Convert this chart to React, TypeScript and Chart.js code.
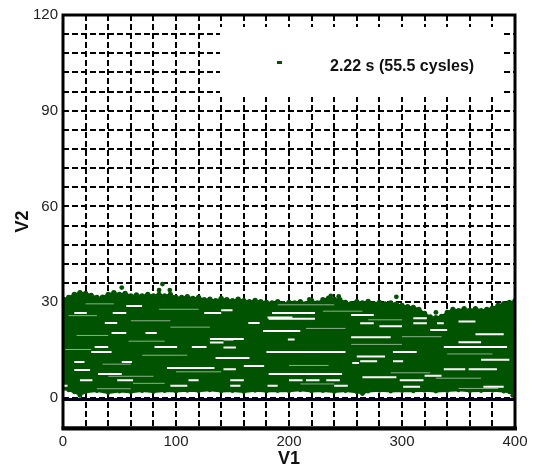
import { useEffect, useRef } from 'react';
import { Chart, registerables } from 'chart.js';

Chart.register(...registerables);

const SERIES_LABEL = '2.22 s (55.5 cysles)';
const GREEN = '#005300';
const FONT = '"Liberation Sans", Arial, Helvetica, sans-serif';

// Upper edge of the V2 cloud
const topX = [
  0, 5, 10, 15, 20, 25, 30, 35, 40, 45, 50, 55, 60, 65, 70, 75, 80, 85, 90, 95,
  100, 105, 110, 115, 120, 125, 130, 135, 140, 145, 150, 155, 160, 165, 170, 175,
  180, 185, 190, 195, 200, 205, 210, 215, 220, 225, 230, 235, 240, 245, 250, 255,
  260, 265, 270, 275, 280, 285, 290, 295, 300, 305, 310, 315, 320, 325, 330, 335,
  340, 345, 350, 355, 360, 365, 370, 375, 380, 385, 390, 395, 400,
];
const topY = [
  31, 31.5, 32.5, 33, 32.8, 32.2, 31.5, 31.6, 32.5, 33, 32.5, 32.8, 32, 32.3, 32, 32.5, 32, 32.5, 32, 32.5,
  31.5, 31.5, 31.8, 31.2, 31.5, 30.8, 31, 30.5, 31.2, 30.8, 30.5, 31, 30.5, 30.2, 30.6, 30.2,
  30, 29.8, 30.2, 29.6, 30, 29.8, 30.2, 29.6, 30.5, 29.8, 30.8, 31.3, 31, 30.8, 30, 29.6,
  30.2, 29.8, 30.3, 29.6, 30, 29.5, 29.8, 29.4, 29, 28.6, 28.4, 27.8, 26.5, 25.4, 25.2, 25.6,
  26.8, 27.8, 27.4, 28, 27.5, 28, 27.4, 27.8, 28.2, 29, 29.6, 30, 30.4,
];

// Lower edge of the V2 cloud
const bottomX = [
  0, 5, 10, 15, 20, 30, 40, 50, 60, 70, 80, 90, 100, 110, 120, 130, 140, 150, 160, 170,
  180, 190, 200, 210, 220, 230, 240, 250, 260, 265, 270, 280, 290, 300, 310, 320, 330,
  340, 350, 360, 370, 380, 390, 395, 400,
];
const bottomY = [
  2.8, 2.4, 1.8, 1.0, 1.8, 2.2, 1.6, 2.0, 1.8, 2.2, 1.9, 2.2, 2.0, 2.3, 2.1, 2.4, 2.0, 2.2, 1.9, 2.3,
  2.0, 2.2, 2.1, 2.4, 2.0, 2.2, 1.9, 2.2, 1.8, 1.4, 2.0, 2.3, 2.0, 2.2, 2.1, 2.3, 2.0,
  2.2, 2.4, 2.1, 2.2, 2.3, 2.0, 1.8, 0.9,
];

// Isolated samples above the main cloud
const peakX = [52, 85, 88, 94.5, 218, 237, 244, 295, 330, 15, 265, 398];
const peakY = [34.6, 33.8, 35.7, 33.8, 30.9, 32, 31.8, 31.7, 26.8, 0.8, 1.4, 0.8];

// Empty runs inside the cloud: level, start, end
const gapY = [
  28.8, 26.6, 26.6, 23.5, 20.4, 20.4, 16, 16, 16, 14.4, 11.3, 11.3, 9.4, 8.8, 7.5,
  5.6, 5.6, 5.6, 3.8, 3.8,
  26.6, 24.8, 23.5, 21, 14.4, 7.5, 5.6, 5.6, 5.6, 5.6, 3.8, 3.8, 3.8,
  25, 21.3, 16, 14.4, 9, 9, 5.6, 3.5, 3.5, 11.5, 11.5,
  18.5, 12.5, 27.5, 10, 26, 19, 13, 6.5, 22.5, 17.5, 24, 7, 12, 20,
  26.6, 25.2, 18.3, 18.3, 17.4, 15.8, 9, 11, 23.4, 23.4, 23.4,
];
const gapFrom = [
  56, 10, 44, 37, 43, 73, 28, 81, 114, 25, 10, 52, 92, 10, 31,
  15, 48, 111, 0, 95,
  185, 182, 164, 177, 180, 182, 148, 200, 215, 233, 148, 181, 240,
  310, 325, 337, 292, 337, 359, 298, 301, 372, 263, 292,
  130, 135, 140, 160, 255, 255, 260, 265, 280, 350, 350, 320, 370, 365,
  125, 181, 142, 199, 130, 142, 142, 256, 263, 310, 331,
];
const gapTo = [
  70, 21, 56, 48, 56, 83, 40, 101, 127, 43, 19, 61, 134, 24, 52,
  26, 62, 120, 4, 110,
  223, 223, 174, 210, 250, 247, 160, 212, 227, 245, 157, 190, 252,
  322, 340, 393, 313, 356, 384, 319, 316, 390, 278, 301,
  160, 165, 150, 178, 275, 290, 285, 295, 300, 370, 365, 335, 395, 390,
  140, 203, 151, 205, 142, 153, 153, 262, 275, 322, 337,
];

// Faint, one-pixel runs inside the cloud: level, start, end
const faintY = [
  29.5, 27.8, 25.8, 24.2, 22.2, 19.6, 17.8, 15.2, 13.4, 10.6, 8.2, 6.8, 4.6, 2.9,
  29.2, 27.2, 24.5, 21.8, 19.2, 16.8, 13.8, 10.2, 7.9, 6.2, 4.4, 3.0,
];
const faintFrom = [
  20, 85, 5, 60, 95, 12, 58, 2, 70, 35, 100, 40, 62, 30,
  190, 230, 270, 215, 300, 255, 340, 200, 290, 330, 210, 350,
];
const faintTo = [
  45, 120, 30, 95, 130, 40, 90, 25, 110, 60, 140, 80, 90, 60,
  240, 265, 300, 250, 335, 300, 380, 235, 325, 370, 240, 385,
];

// Reference line just under zero
const baseX = [0, 400];
const baseY = [-0.5, -0.5];

const runs = (ys: number[], from: number[], to: number[]) => {
  const out: any[] = [];
  ys.forEach((y, i) => {
    out.push({ x: from[i], y }, { x: to[i], y }, { x: to[i], y: null });
  });
  return out;
};

const framePlugin = {
  id: 'frameAndKey',
  beforeDatasetsDraw(chart: any) {
    const { ctx, chartArea: a } = chart;
    ctx.save();
    ctx.fillStyle = '#ffffff';
    ctx.fillRect(a.left + 157, a.top + 12, 282, 70);
    ctx.restore();
  },
  afterDraw(chart: any) {
    const { ctx, chartArea: a } = chart;
    ctx.save();
    ctx.strokeStyle = '#000';
    ctx.lineWidth = 3;
    ctx.strokeRect(a.left, a.top, a.right - a.left, a.bottom - a.top);
    ctx.lineWidth = 4;
    ctx.beginPath();
    ctx.moveTo(a.left - 1.5, a.bottom + 0.5);
    ctx.lineTo(a.right + 2, a.bottom + 0.5);
    ctx.stroke();
    ctx.fillStyle = GREEN;
    ctx.fillRect(a.left + 214, a.top + 46, 5, 3);
    ctx.fillStyle = '#111';
    ctx.font = `bold 16px ${FONT}`;
    ctx.textBaseline = 'middle';
    ctx.textAlign = 'left';
    ctx.fillText(chart.data.datasets[1].label, a.left + 267, a.top + 52);
    ctx.restore();
  },
};

export default function App() {
  const ref = useRef<HTMLCanvasElement | null>(null);

  useEffect(() => {
    if (!ref.current) return;

    const chart = new Chart(ref.current, {
      type: 'line',
      data: {
        datasets: [
          {
            label: 'lower',
            data: bottomX.map((x, i) => ({ x, y: bottomY[i] })),
            borderColor: GREEN,
            borderWidth: 2,
            pointRadius: 2,
            pointBackgroundColor: GREEN,
            pointBorderWidth: 0,
            fill: false,
            order: 6,
          },
          {
            label: SERIES_LABEL,
            data: topX.map((x, i) => ({ x, y: topY[i] })),
            borderColor: GREEN,
            backgroundColor: GREEN,
            borderWidth: 2,
            pointRadius: 2.6,
            pointBackgroundColor: GREEN,
            pointBorderWidth: 0,
            fill: { target: 0 },
            order: 5,
          },
          {
            type: 'scatter',
            label: 'peaks',
            data: peakX.map((x, i) => ({ x, y: peakY[i] })),
            pointRadius: 2.4,
            pointBackgroundColor: GREEN,
            pointBorderWidth: 0,
            order: 4,
          },
          {
            label: 'faint',
            data: runs(faintY, faintFrom, faintTo),
            borderColor: 'rgba(255,255,255,0.55)',
            borderWidth: 1,
            pointRadius: 0,
            spanGaps: false,
            fill: false,
            order: 3,
          },
          {
            label: 'gaps',
            data: runs(gapY, gapFrom, gapTo),
            borderColor: '#ffffff',
            borderWidth: 2,
            pointRadius: 0,
            spanGaps: false,
            fill: false,
            order: 2,
          },
          {
            label: 'base',
            data: baseX.map((x, i) => ({ x, y: baseY[i] })),
            borderColor: '#00001a',
            borderWidth: 3,
            borderDash: [],
            pointRadius: 0,
            fill: false,
            clip: false,
            order: 1,
          },
        ] as any,
      },
      options: {
        animation: false,
        responsive: false,
        devicePixelRatio: 1,
        layout: { padding: { left: 0, top: 15, right: 21, bottom: 0 } },
        plugins: { legend: { display: false }, tooltip: { enabled: false } },
        elements: { line: { tension: 0 } },
        scales: {
          x: {
            type: 'linear',
            min: 0,
            max: 400,
            afterFit: (s: any) => { s.height = 42; },
            ticks: {
              stepSize: 20,
              autoSkip: false,
              maxRotation: 0,
              padding: 5,
              color: '#222',
              font: { family: FONT, size: 15 },
              callback: (v: any) => (Number(v) % 100 === 0 ? String(v) : ''),
            },
            grid: { color: '#000', lineWidth: 2, drawTicks: false },
            border: { display: false, dash: [6, 3] },
            title: {
              display: true,
              text: 'V1',
              color: '#111',
              font: { family: FONT, size: 18, weight: 'bold' },
              padding: { top: 0, bottom: 0 },
            },
          },
          y: {
            type: 'linear',
            min: -9.4,
            max: 120,
            afterFit: (s: any) => { s.width = 63; },
            ticks: {
              stepSize: 6,
              autoSkip: false,
              padding: 5,
              color: '#222',
              font: { family: FONT, size: 15 },
              callback: (v: any) => {
                const n = Number(v);
                return Math.abs(n % 30) < 1e-9 ? String(n) : '';
              },
            },
            grid: { color: '#000', lineWidth: 2, drawTicks: false },
            border: { display: false, dash: [6, 3] },
            title: {
              display: true,
              text: 'V2',
              color: '#111',
              font: { family: FONT, size: 18, weight: 'bold' },
              padding: { top: 12, bottom: 0 },
            },
          },
        },
      } as any,
      plugins: [framePlugin],
    });
    return () => chart.destroy();
  }, []);

  return (
    <div style={{ position: 'absolute', left: 0, top: 0, width: 536, height: 470, background: '#fff' }}>
      <canvas ref={ref} width={536} height={470} style={{ display: 'block' }} />
    </div>
  );
}
